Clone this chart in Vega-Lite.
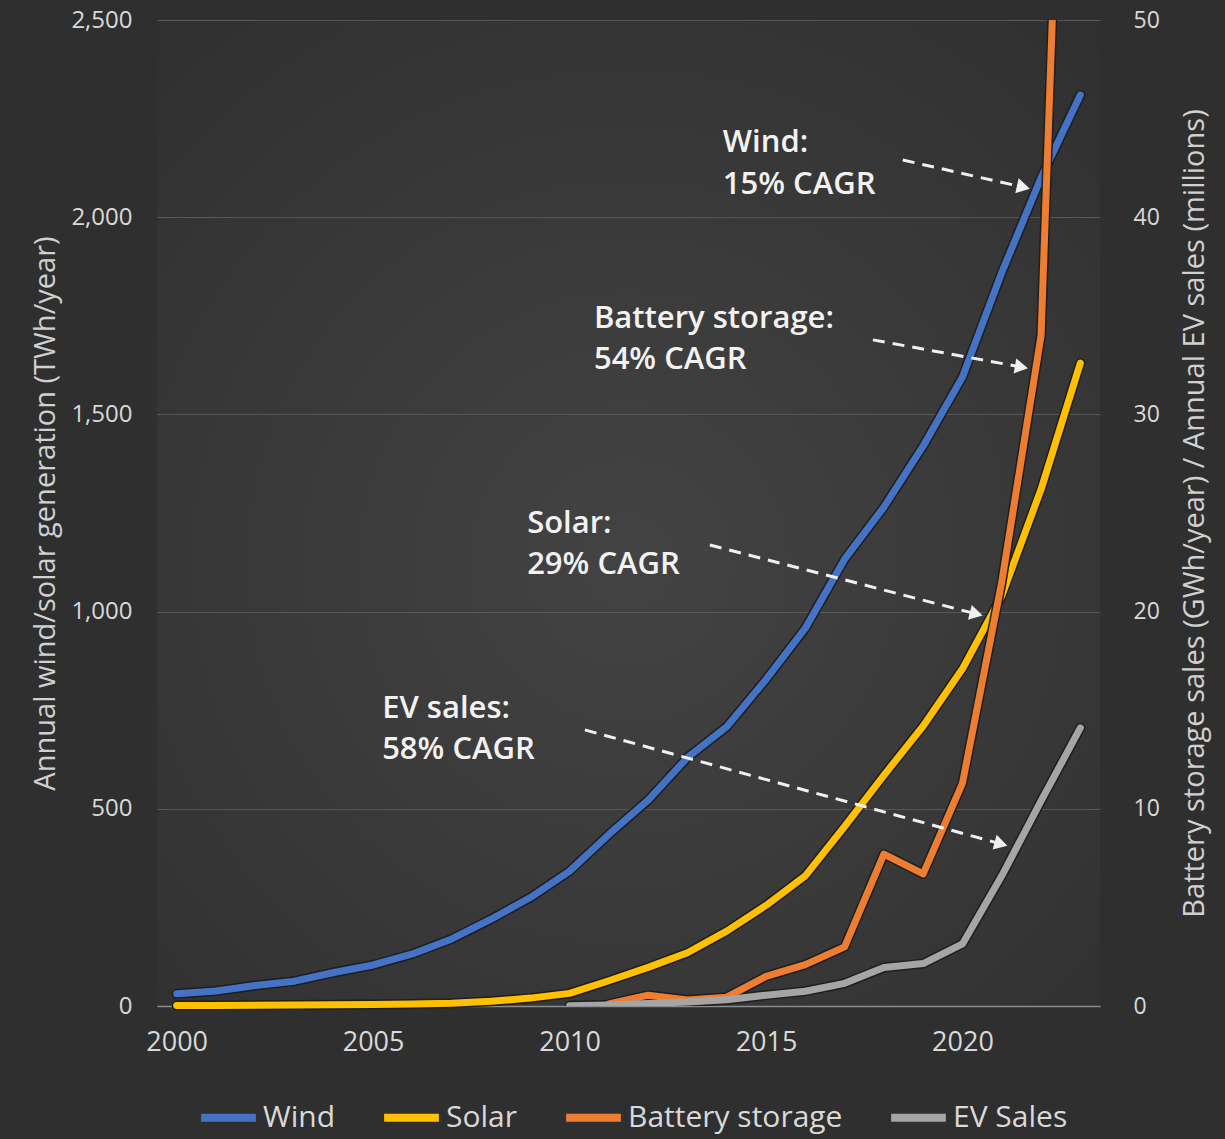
{
  "$schema": "https://vega.github.io/schema/vega-lite/v6.json",
  "width": 943,
  "height": 986,
  "autosize": {"type": "none"},
  "padding": {"left": 157, "top": 20, "right": 125, "bottom": 133},
  "background": "#2f2f2f",
  "config": {
    "font": "Open Sans",
    "view": {
      "stroke": null,
      "fill": {
        "gradient": "radial",
        "x1": 0.5, "y1": 0.55, "r1": 0,
        "x2": 0.5, "y2": 0.55, "r2": 0.75,
        "stops": [
          {"offset": 0, "color": "#434343"},
          {"offset": 1, "color": "#2f2f2f"}
        ]
      }
    },
    "axis": {
      "labelColor": "#d9d9d9",
      "titleColor": "#d0d0d0",
      "labelFont": "Open Sans",
      "titleFont": "Open Sans",
      "titleFontWeight": "normal",
      "ticks": false,
      "domain": false,
      "grid": false
    }
  },
  "datasets": {
    "series": [
      {"year": 2000, "series": "Wind", "value": 31},
      {"year": 2001, "series": "Wind", "value": 38},
      {"year": 2002, "series": "Wind", "value": 52},
      {"year": 2003, "series": "Wind", "value": 63},
      {"year": 2004, "series": "Wind", "value": 85},
      {"year": 2005, "series": "Wind", "value": 104},
      {"year": 2006, "series": "Wind", "value": 132},
      {"year": 2007, "series": "Wind", "value": 170},
      {"year": 2008, "series": "Wind", "value": 220},
      {"year": 2009, "series": "Wind", "value": 275},
      {"year": 2010, "series": "Wind", "value": 342},
      {"year": 2011, "series": "Wind", "value": 435},
      {"year": 2012, "series": "Wind", "value": 522},
      {"year": 2013, "series": "Wind", "value": 630},
      {"year": 2014, "series": "Wind", "value": 708},
      {"year": 2015, "series": "Wind", "value": 828},
      {"year": 2016, "series": "Wind", "value": 958},
      {"year": 2017, "series": "Wind", "value": 1133},
      {"year": 2018, "series": "Wind", "value": 1265},
      {"year": 2019, "series": "Wind", "value": 1420},
      {"year": 2020, "series": "Wind", "value": 1595},
      {"year": 2021, "series": "Wind", "value": 1860},
      {"year": 2022, "series": "Wind", "value": 2100},
      {"year": 2023, "series": "Wind", "value": 2310},
      {"year": 2000, "series": "Solar", "value": 1},
      {"year": 2001, "series": "Solar", "value": 1.5},
      {"year": 2002, "series": "Solar", "value": 2},
      {"year": 2003, "series": "Solar", "value": 2.5},
      {"year": 2004, "series": "Solar", "value": 3},
      {"year": 2005, "series": "Solar", "value": 4},
      {"year": 2006, "series": "Solar", "value": 5},
      {"year": 2007, "series": "Solar", "value": 7},
      {"year": 2008, "series": "Solar", "value": 12},
      {"year": 2009, "series": "Solar", "value": 20},
      {"year": 2010, "series": "Solar", "value": 32},
      {"year": 2011, "series": "Solar", "value": 64},
      {"year": 2012, "series": "Solar", "value": 98},
      {"year": 2013, "series": "Solar", "value": 135},
      {"year": 2014, "series": "Solar", "value": 190},
      {"year": 2015, "series": "Solar", "value": 255},
      {"year": 2016, "series": "Solar", "value": 330},
      {"year": 2017, "series": "Solar", "value": 455},
      {"year": 2018, "series": "Solar", "value": 585},
      {"year": 2019, "series": "Solar", "value": 710},
      {"year": 2020, "series": "Solar", "value": 855},
      {"year": 2021, "series": "Solar", "value": 1040},
      {"year": 2022, "series": "Solar", "value": 1310},
      {"year": 2023, "series": "Solar", "value": 1630},
      {"year": 2011, "series": "Battery storage", "value": 0.1},
      {"year": 2012, "series": "Battery storage", "value": 0.55},
      {"year": 2013, "series": "Battery storage", "value": 0.3},
      {"year": 2014, "series": "Battery storage", "value": 0.45},
      {"year": 2015, "series": "Battery storage", "value": 1.5},
      {"year": 2016, "series": "Battery storage", "value": 2.1},
      {"year": 2017, "series": "Battery storage", "value": 3.0},
      {"year": 2018, "series": "Battery storage", "value": 7.7},
      {"year": 2019, "series": "Battery storage", "value": 6.7},
      {"year": 2020, "series": "Battery storage", "value": 11.3},
      {"year": 2021, "series": "Battery storage", "value": 21.5},
      {"year": 2022, "series": "Battery storage", "value": 34},
      {"year": 2023, "series": "Battery storage", "value": 90},
      {"year": 2010, "series": "EV Sales", "value": 0.01},
      {"year": 2011, "series": "EV Sales", "value": 0.05},
      {"year": 2012, "series": "EV Sales", "value": 0.13},
      {"year": 2013, "series": "EV Sales", "value": 0.2},
      {"year": 2014, "series": "EV Sales", "value": 0.32},
      {"year": 2015, "series": "EV Sales", "value": 0.55},
      {"year": 2016, "series": "EV Sales", "value": 0.75},
      {"year": 2017, "series": "EV Sales", "value": 1.15},
      {"year": 2018, "series": "EV Sales", "value": 1.95},
      {"year": 2019, "series": "EV Sales", "value": 2.15},
      {"year": 2020, "series": "EV Sales", "value": 3.15},
      {"year": 2021, "series": "EV Sales", "value": 6.6},
      {"year": 2022, "series": "EV Sales", "value": 10.4},
      {"year": 2023, "series": "EV Sales", "value": 14.1}
    ],
    "notes": [
      {"year": 2013.9, "value": 2188, "label": "Wind:"},
      {"year": 2013.9, "value": 2082, "label": "15% CAGR"},
      {"year": 2010.62, "value": 1743, "label": "Battery storage:"},
      {"year": 2010.62, "value": 1639, "label": "54% CAGR"},
      {"year": 2008.92, "value": 1222, "label": "Solar:"},
      {"year": 2008.92, "value": 1118, "label": "29% CAGR"},
      {"year": 2005.23, "value": 754, "label": "EV sales:"},
      {"year": 2005.23, "value": 650, "label": "58% CAGR"}
    ],
    "arrows": [
      {"name": "wind", "year": 2018.48, "value": 2145, "year2": 2021.55, "value2": 2076},
      {"name": "battery", "year": 2017.72, "value": 1689, "year2": 2021.5, "value2": 1620},
      {"name": "solar", "year": 2013.57, "value": 1169, "year2": 2020.35, "value2": 994},
      {"name": "ev", "year": 2010.39, "value": 700, "year2": 2020.98, "value2": 411}
    ]
  },
  "encoding": {
    "x": {
      "field": "year",
      "type": "quantitative",
      "scale": {"domain": [1999.5, 2023.5], "nice": false, "zero": false},
      "axis": {
        "values": [2000, 2005, 2010, 2015, 2020],
        "format": "d",
        "labelFontSize": 27,
        "labelPadding": 23,
        "domain": true,
        "domainColor": "#8c8c8c",
        "domainWidth": 1.5,
        "title": null,
        "grid": false
      }
    }
  },
  "layer": [
    {
      "data": {"name": "series"},
      "transform": [{"filter": {"field": "series", "oneOf": ["Wind", "Solar"]}}],
      "encoding": {
        "y": {
          "field": "value",
          "type": "quantitative",
          "scale": {"domain": [0, 2500], "nice": false},
          "axis": {
            "values": [0, 500, 1000, 1500, 2000, 2500],
            "format": ",d",
            "grid": true,
            "gridColor": "#575757",
            "gridWidth": 1,
            "labelFontSize": 24,
            "labelPadding": 25,
            "title": "Annual wind/solar generation (TWh/year)",
            "titleFontSize": 29,
            "titlePadding": 10
          }
        }
      },
      "layer": [
        {
          "mark": {"type": "line", "stroke": "#1e1e1e", "strokeWidth": 10, "strokeJoin": "round", "strokeCap": "round"},
          "encoding": {"detail": {"field": "series"}}
        },
        {
          "mark": {"type": "line", "strokeWidth": 7, "strokeJoin": "round", "strokeCap": "round"},
          "encoding": {
            "color": {
              "field": "series",
              "type": "nominal",
              "scale": {
                "domain": ["Wind", "Solar", "Battery storage", "EV Sales"],
                "range": ["#4472C4", "#FFC000", "#ED7D31", "#A5A5A5"]
              },
              "legend": {
                "title": null,
                "orient": "none",
                "legendX": 40,
                "legendY": 1066,
                "direction": "horizontal",
                "symbolType": "stroke",
                "symbolStrokeWidth": 8,
                "symbolSize": 3000,
                "labelFontSize": 30,
                "labelColor": "#d9d9d9",
                "labelFont": "Open Sans",
                "labelOffset": 3,
                "columnPadding": 32,
                "labelLimit": 400
              }
            }
          }
        }
      ]
    },
    {
      "data": {"name": "series"},
      "transform": [{"filter": {"field": "series", "oneOf": ["Battery storage", "EV Sales"]}}],
      "encoding": {
        "y": {
          "field": "value",
          "type": "quantitative",
          "scale": {"domain": [0, 50], "nice": false},
          "axis": {
            "orient": "right",
            "values": [0, 10, 20, 30, 40, 50],
            "grid": false,
            "labelFontSize": 23,
            "labelPadding": 33,
            "title": "Battery storage sales (GWh/year) / Annual EV sales (millions)",
            "titleFontSize": 29,
            "titleAngle": 270,
            "titlePadding": 50
          }
        }
      },
      "layer": [
        {
          "mark": {"type": "line", "stroke": "#1e1e1e", "strokeWidth": 10, "strokeJoin": "round", "strokeCap": "round", "clip": true},
          "encoding": {"detail": {"field": "series"}}
        },
        {
          "mark": {"type": "line", "strokeWidth": 7, "strokeJoin": "round", "strokeCap": "round", "clip": true},
          "encoding": {
            "color": {"field": "series", "type": "nominal"}
          }
        }
      ]
    },
    {
      "encoding": {
        "y": {
          "field": "value",
          "type": "quantitative",
          "scale": {"domain": [0, 2500], "nice": false},
          "axis": null
        }
      },
      "layer": [
        {
          "data": {"name": "notes"},
          "mark": {"type": "text", "align": "left", "baseline": "middle", "fontSize": 31, "fontWeight": 600, "color": "#f2f2f2", "font": "Open Sans"},
          "encoding": {"text": {"field": "label"}}
        },
        {
          "data": {"name": "arrows"},
          "mark": {"type": "rule", "color": "#f0f0f0", "strokeWidth": 3, "strokeDash": [12, 8]},
          "encoding": {"x2": {"field": "year2"}, "y2": {"field": "value2"}}
        },
        {
          "data": {"name": "arrows"},
          "transform": [{"filter": "datum.name == 'wind'"}],
          "mark": {"type": "point", "shape": "triangle-right", "filled": true, "color": "#f0f0f0", "opacity": 1, "size": 230, "angle": 13},
          "encoding": {"x": {"field": "year2", "type": "quantitative"}, "y": {"field": "value2", "type": "quantitative"}}
        },
        {
          "data": {"name": "arrows"},
          "transform": [{"filter": "datum.name == 'battery'"}],
          "mark": {"type": "point", "shape": "triangle-right", "filled": true, "color": "#f0f0f0", "opacity": 1, "size": 230, "angle": 10},
          "encoding": {"x": {"field": "year2", "type": "quantitative"}, "y": {"field": "value2", "type": "quantitative"}}
        },
        {
          "data": {"name": "arrows"},
          "transform": [{"filter": "datum.name == 'solar'"}],
          "mark": {"type": "point", "shape": "triangle-right", "filled": true, "color": "#f0f0f0", "opacity": 1, "size": 230, "angle": 14.5},
          "encoding": {"x": {"field": "year2", "type": "quantitative"}, "y": {"field": "value2", "type": "quantitative"}}
        },
        {
          "data": {"name": "arrows"},
          "transform": [{"filter": "datum.name == 'ev'"}],
          "mark": {"type": "point", "shape": "triangle-right", "filled": true, "color": "#f0f0f0", "opacity": 1, "size": 230, "angle": 15.3},
          "encoding": {"x": {"field": "year2", "type": "quantitative"}, "y": {"field": "value2", "type": "quantitative"}}
        }
      ]
    }
  ],
  "resolve": {"scale": {"y": "independent"}}
}
